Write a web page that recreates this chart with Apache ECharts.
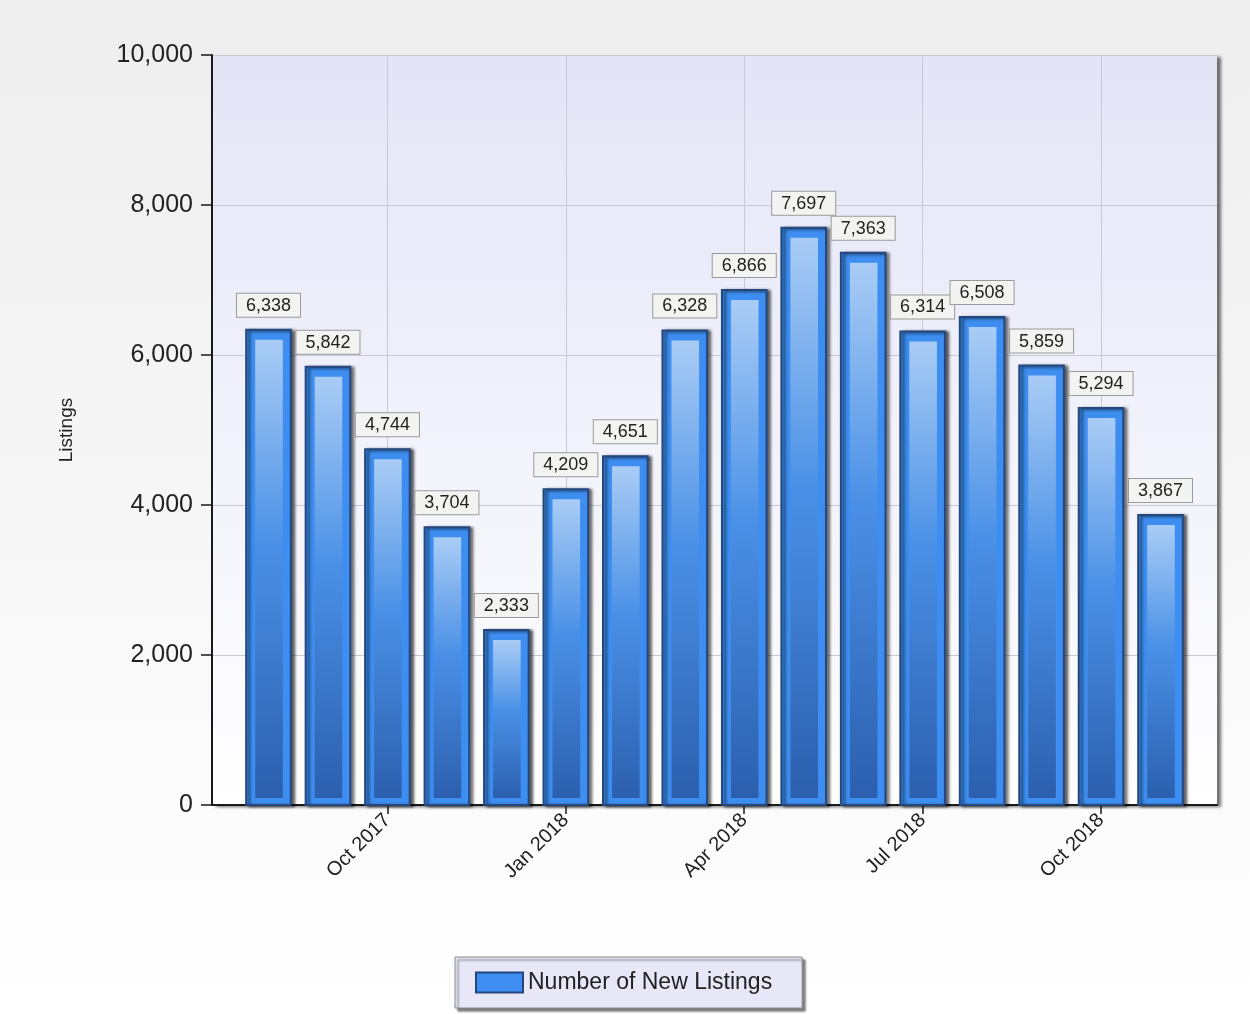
<!DOCTYPE html>
<html>
<head>
<meta charset="utf-8">
<style>
html,body{margin:0;padding:0;}
#chart{width:1250px;height:1014px;}
</style>
<script src="https://cdn.jsdelivr.net/npm/echarts@6/dist/echarts.min.js"></script>
</head>
<body>
<div id="chart"></div>
<script>
const categories = ['Aug 2017','Sep 2017','Oct 2017','Nov 2017','Dec 2017','Jan 2018','Feb 2018','Mar 2018','Apr 2018','May 2018','Jun 2018','Jul 2018','Aug 2018','Sep 2018','Oct 2018','Nov 2018'];
const newListings = [6338,5842,4744,3704,2333,4209,4651,6328,6866,7697,7363,6314,6508,5859,5294,3867];
const xTickIndices = [2,5,8,11,14];
const yTicks = [0,2000,4000,6000,8000,10000];
const seriesName = 'Number of New Listings';

const fmt = v => Number(v).toLocaleString('en-US');
const FONT = '"Liberation Sans", Arial, sans-serif';

const chart = echarts.init(document.getElementById('chart'));
const data = newListings.map((v, i) => [i, v]);

chart.setOption({
  backgroundColor: new echarts.graphic.LinearGradient(0,0,0,1,[
    {offset:0,color:'#eeeeee'},{offset:1,color:'#ffffff'}
  ]),
  animation: false,
  grid: {
    left: 212, top: 55, right: 33, bottom: 209,
    show: true, borderWidth: 0,
    backgroundColor: new echarts.graphic.LinearGradient(0,0,0,1,[
      {offset:0,color:'#e3e5f7'},{offset:1,color:'#ffffff'}
    ]),
    shadowColor: 'rgba(0,0,0,0.55)', shadowBlur: 3, shadowOffsetX: 4, shadowOffsetY: 2
  },
  legend: {
    left: 455, top: 957,
    data: [{name: seriesName, icon: 'rect', itemStyle: {color:'#3d8ef0', borderColor:'#23477e', borderWidth:2}}],
    itemWidth: 47, itemHeight: 20, itemGap: 10,
    backgroundColor: '#e7e7f8', borderColor: '#8a8a8a', borderWidth: 1,
    padding: [14, 30, 14, 20],
    shadowColor: 'rgba(0,0,0,0.5)', shadowBlur: 2, shadowOffsetX: 3, shadowOffsetY: 3,
    textStyle: {fontSize: 23, color: '#222', fontFamily: FONT},
    selectedMode: false
  },
  xAxis: {
    type: 'value', min: -0.95, max: 15.95,
    axisLine: {show: true, onZero: false, lineStyle: {color:'#1a1a1a', width: 2}},
    axisTick: {show: true, customValues: xTickIndices, length: 9, lineStyle: {color:'#1a1a1a', width: 1.5}},
    axisLabel: {customValues: xTickIndices, rotate: 45, margin: 12, fontSize: 20, color: '#222', fontFamily: FONT,
      formatter: v => categories[Math.round(v)] || ''},
    splitLine: {show: true, lineStyle: {color:'#c9c9d6', width: 1}}
  },
  yAxis: {
    type: 'value', min: yTicks[0], max: yTicks[yTicks.length-1], interval: 2000,
    name: 'Listings', nameLocation: 'middle', nameRotate: 90, nameGap: 136,
    nameTextStyle: {fontSize: 19, color: '#222', fontFamily: FONT},
    axisLine: {show: true, onZero: false, lineStyle: {color:'#1a1a1a', width: 2}},
    axisTick: {show: true, length: 11, lineStyle: {color:'#1a1a1a', width: 1.5}},
    axisLabel: {margin: 19, fontSize: 25, color: '#222', fontFamily: FONT, formatter: v => fmt(v)},
    splitLine: {show: true, lineStyle: {color:'#c9c9d6', width: 1}}
  },
  series: [{
    type: 'custom',
    name: seriesName,
    data: data,
    encode: {x: 0, y: 1},
    itemStyle: {color:'#3d8ef0', borderColor:'#23477e'},
    renderItem: function(params, api) {
      const x = api.value(0), v = api.value(1);
      const top = api.coord([x, v]);
      const base = api.coord([x, 0]);
      const w = api.size([1, 0])[0] * 0.75;
      const left = top[0] - w / 2;
      const h = base[1] - top[1];
      return {
        type: 'group',
        children: [
          {
            type: 'rect',
            shape: {x: left, y: top[1], width: w, height: h},
            style: {fill: '#3d8ef0', stroke: '#23477e', lineWidth: 2,
              shadowColor: 'rgba(0,0,0,0.6)', shadowBlur: 3, shadowOffsetX: 3, shadowOffsetY: 1},
            textContent: {
              style: {text: fmt(v), fontSize: 18, fill: '#222', fontFamily: FONT,
                backgroundColor: '#f3f3f1', borderColor: '#9a9a9a', borderWidth: 1,
                padding: [2, 9, 1, 9], lineHeight: 20}
            },
            textConfig: {position: 'top', distance: 12}
          },
          {
            type: 'rect',
            shape: {x: left + 9, y: top[1] + 10, width: w - 17, height: Math.max(h - 17, 0)},
            style: {fill: new echarts.graphic.LinearGradient(0,0,0,1,[
              {offset:0,color:'#a9ccf5'},{offset:0.45,color:'#4a90e6'},{offset:1,color:'#2c5fae'}
            ])}
          }
        ]
      };
    }
  }]
});
</script>
</body>
</html>
